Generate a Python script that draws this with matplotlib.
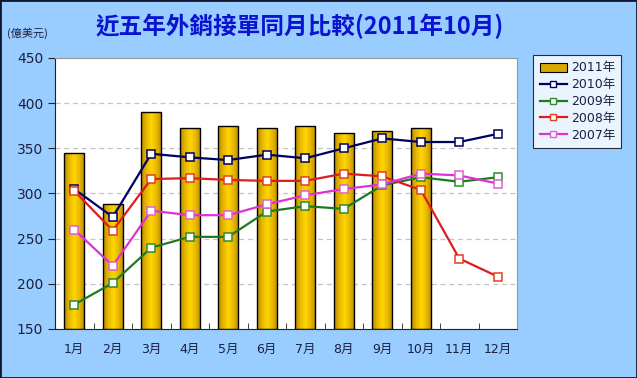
"""Recreation of the monthly export-order comparison chart (2011/10)."""

import matplotlib

matplotlib.use("Agg")
import matplotlib.pyplot as plt
import numpy as np
from matplotlib.colors import LinearSegmentedColormap
from matplotlib.patches import Patch
from matplotlib.lines import Line2D

plt.rcParams["font.family"] = ["DejaVu Sans", "Noto Sans CJK TC"]

months = ["1月", "2月", "3月", "4月", "5月", "6月", "7月", "8月", "9月", "10月", "11月", "12月"]
orders_2011 = [345, 288, 390, 373, 375, 373, 375, 367, 369, 372]
orders_2010 = [305, 274, 344, 340, 337, 343, 339, 350, 361, 357, 357, 366]
orders_2009 = [177, 201, 240, 252, 252, 280, 286, 283, 309, 318, 313, 318]
orders_2008 = [303, 259, 316, 317, 315, 314, 314, 322, 319, 304, 228, 208]
orders_2007 = [260, 220, 281, 276, 276, 288, 298, 305, 310, 322, 320, 311]

line_series = [
    ("2010年", orders_2010, "#000060", "#000060"),
    ("2009年", orders_2009, "#1E7A1E", "#2E8B2E"),
    ("2008年", orders_2008, "#DD1C1C", "#E0401C"),
    ("2007年", orders_2007, "#E030D8", "#E060D0"),
]

BG = "#99CCFF"

fig = plt.figure(figsize=(6.37, 3.78), dpi=100, facecolor=BG)
fig.patches.append(plt.Rectangle((0, 0), 1, 1, transform=fig.transFigure,
                                 fill=False, edgecolor="#101830", linewidth=2.0))
ax = fig.add_axes([55 / 637, 49 / 378, 462 / 637, 271 / 378])
ax.set_facecolor("white")

x = np.arange(len(months))

# gold bars with a horizontal gradient
gold = LinearSegmentedColormap.from_list(
    "gold", ["#B88A00", "#E8B800", "#FFD500", "#E8B800", "#B88A00"])
grad = np.linspace(0, 1, 64).reshape(1, -1)
bars = ax.bar(x[: len(orders_2011)], np.array(orders_2011) - 150, bottom=150,
              width=0.52, facecolor="none", edgecolor="black", linewidth=1.0, zorder=3)
for bar in bars:
    x0, y0 = bar.get_x(), bar.get_y()
    im = ax.imshow(grad, cmap=gold, aspect="auto", zorder=2,
                   extent=(x0, x0 + bar.get_width(), y0, y0 + bar.get_height()))
    im.set_clip_path(bar)

for label, values, color, mec in line_series:
    ax.plot(x[: len(values)], values, color=color, linewidth=1.6, marker="s",
            markersize=6, markerfacecolor="white", markeredgecolor=mec,
            markeredgewidth=1.1, zorder=4, label=label)

ax.set_xlim(-0.5, len(months) - 0.5)
ax.set_ylim(150, 450)
ax.set_yticks(range(150, 451, 50))
ax.set_xticks(x)
ax.set_xticklabels(months, fontsize=9, color="#1A2040")
ax.tick_params(axis="x", length=0, pad=10)
ax.set_xticks(np.arange(-0.5, len(months), 1), minor=True)
ax.tick_params(axis="x", which="minor", direction="in", length=4, color="#222222")
ax.tick_params(axis="y", direction="out", length=5, labelsize=10, colors="#1A2040",
               color="#222222")
ax.grid(axis="y", linestyle=(0, (4, 3)), color="#C4C4C4", linewidth=0.9, zorder=0)
ax.set_axisbelow(True)
for side in ("top", "right"):
    ax.spines[side].set_color("#999999")
ax.spines["left"].set_color("#222222")
ax.spines["bottom"].set_color("#222222")

fig.text(300 / 637, 1 - 26 / 378, "近五年外銷接單同月比較(2011年10月)", ha="center",
         va="center", fontsize=17, fontweight="bold", color="#0A14D0",
         family=["Noto Sans CJK TC", "DejaVu Sans"])
fig.text(7 / 637, 1 - 33 / 378, "(億美元)", ha="left", va="center", fontsize=8,
         color="#1A2040", family=["Noto Sans CJK TC", "DejaVu Sans"])

handles = [Patch(facecolor="#D9A800", edgecolor="black", linewidth=0.8, label="2011年")]
for label, values, color, mec in line_series:
    handles.append(Line2D([], [], color=color, linewidth=1.6, marker="s", markersize=5,
                          markerfacecolor="white", markeredgecolor=mec, label=label))
leg = fig.legend(handles=handles, loc="upper left", bbox_to_anchor=(527 / 637, 1 - 49 / 378),
                 frameon=True, fancybox=False, handlelength=2.2,
                 handletextpad=0.3, borderpad=0.5, labelspacing=0.3,
                 prop={"family": ["DejaVu Sans", "Noto Sans CJK TC"], "size": 9})
leg.get_frame().set_edgecolor("black")
leg.get_frame().set_linewidth(0.8)
for text in leg.get_texts():
    text.set_color("#1A2040")

fig.savefig("out.png", dpi=100, facecolor=BG)
